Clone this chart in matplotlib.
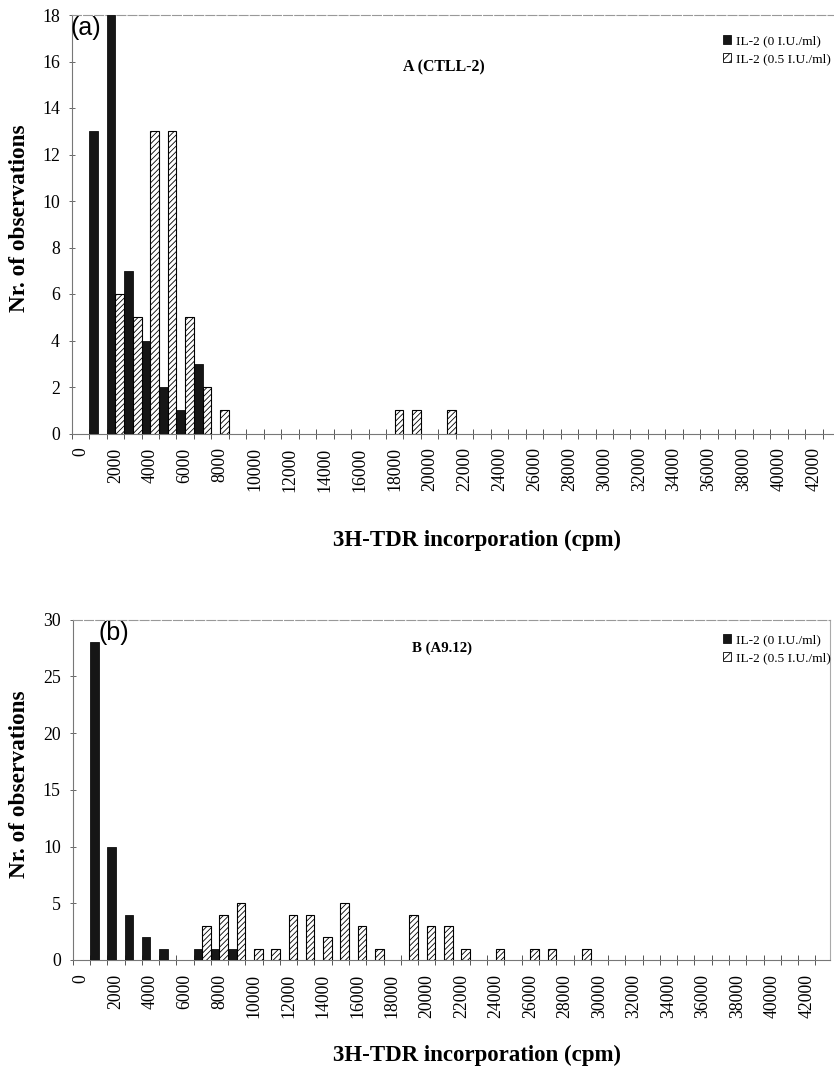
import numpy as np
import matplotlib
matplotlib.use("Agg")
import matplotlib.pyplot as plt
from matplotlib.patches import Patch

# ---------------- data ----------------
categories = list(range(0, 43000, 1000))          # 0 ... 42000 cpm, step 1000
tick_labels = [str(c) if c % 2000 == 0 else "" for c in categories]
series_names = ["IL-2 (0 I.U./ml)", "IL-2 (0.5 I.U./ml)"]

# panel A (CTLL-2)
a_il2_0 = [0, 13, 18, 7, 4, 2, 1, 3, 0, 0,
           0, 0, 0, 0, 0, 0, 0, 0, 0, 0,
           0, 0, 0, 0, 0, 0, 0, 0, 0, 0,
           0, 0, 0, 0, 0, 0, 0, 0, 0, 0,
           0, 0, 0]
a_il2_05 = [0, 0, 6, 5, 13, 13, 5, 2, 1, 0,
            0, 0, 0, 0, 0, 0, 0, 0, 1, 1,
            0, 1, 0, 0, 0, 0, 0, 0, 0, 0,
            0, 0, 0, 0, 0, 0, 0, 0, 0, 0,
            0, 0, 0]

# panel B (A9.12)
b_il2_0 = [0, 28, 10, 4, 2, 1, 0, 1, 1, 1,
           0, 0, 0, 0, 0, 0, 0, 0, 0, 0,
           0, 0, 0, 0, 0, 0, 0, 0, 0, 0,
           0, 0, 0, 0, 0, 0, 0, 0, 0, 0,
           0, 0, 0]
b_il2_05 = [0, 0, 0, 0, 0, 0, 0, 3, 4, 5,
            1, 1, 4, 4, 2, 5, 3, 1, 0, 4,
            3, 3, 1, 0, 1, 0, 1, 1, 0, 1,
            0, 0, 0, 0, 0, 0, 0, 0, 0, 0,
            0, 0, 0]

# ---------------- style ----------------
plt.rcParams['font.family'] = ['Liberation Serif', 'DejaVu Serif']
plt.rcParams['hatch.linewidth'] = 0.6

W, H = 834, 1078
fig = plt.figure(figsize=(W / 100, H / 100), dpi=100)


def fx(px):
    return px / W


def fy(py):
    return 1 - py / H


def panel(rect_px, il0, il05, ymax, ystep, xright, title, title_xy, title_size,
          letter, letter_xy, leg_xy, ylabel_y, xlabel_y, right_spine):
    l, t, r, b = rect_px
    ax = fig.add_axes([fx(l), fy(b), (r - l) / W, (b - t) / H])
    x = np.arange(len(categories))
    v0 = np.array(il0, dtype=float)
    v5 = np.array(il05, dtype=float)
    m0 = v0 > 0
    m5 = v5 > 0
    ax.bar(x[m0] - 0.25, v0[m0], width=0.5, color='#161616',
           edgecolor='#101010', linewidth=0.6, zorder=3)
    ax.bar(x[m5] + 0.25, v5[m5], width=0.5, color='white',
           edgecolor='black', linewidth=0.8, hatch='//////', zorder=3)

    ax.set_xlim(-0.5, xright)
    ax.set_ylim(0, ymax)

    # category boundary ticks (unlabelled) and labelled centres
    ax.set_xticks(np.arange(len(categories) + 1) - 0.5)
    ax.set_xticklabels([])
    ax.set_xticks(x, tick_labels, minor=True)
    ax.tick_params(axis='x', which='major', direction='inout', length=7,
                   width=0.7, color='#555555')
    ax.tick_params(axis='x', which='minor', length=0, pad=10,
                   labelsize=12.8, labelrotation=90)
    ax.set_yticks(np.arange(0, ymax + 0.1, ystep))
    ax.tick_params(axis='y', direction='inout', length=5, width=0.7,
                   color='#666666', labelsize=12.8, pad=6)

    for s in ['left', 'bottom']:
        ax.spines[s].set_color('#777777')
        ax.spines[s].set_linewidth(0.8)
    ax.spines['top'].set_color('#999999')
    ax.spines['top'].set_linewidth(0.8)
    ax.spines['top'].set_linestyle((0, (8, 2)))
    ax.spines['right'].set_color('#aaaaaa')
    ax.spines['right'].set_linewidth(0.8)
    ax.spines['right'].set_visible(right_spine)

    fig.text(fx(title_xy[0]), fy(title_xy[1]), title, ha='center', va='center',
             fontsize=title_size, fontweight='bold')
    fig.text(fx(letter_xy[0]), fy(letter_xy[1]), letter, ha='left', va='top',
             fontsize=18, family=['Liberation Sans', 'DejaVu Sans'])
    handles = [Patch(facecolor='#161616', edgecolor='#101010', linewidth=0.6),
               Patch(facecolor='white', edgecolor='black', linewidth=0.6,
                     hatch='////')]
    ax.legend(handles, series_names, loc='upper left',
              bbox_to_anchor=(fx(leg_xy[0]), fy(leg_xy[1])),
              bbox_transform=fig.transFigure, frameon=False, fontsize=9.6,
              handlelength=0.6, handleheight=0.6, handletextpad=0.35,
              labelspacing=0.45, borderpad=0, borderaxespad=0)
    fig.text(fx(20), fy(ylabel_y), 'Nr. of observations', rotation=90,
             ha='center', va='center', fontsize=16.8, fontweight='bold')
    fig.text(fx(477), fy(xlabel_y), '3H-TDR incorporation (cpm)',
             ha='center', va='center', fontsize=16.5, fontweight='bold')
    return ax


panel((71.7, 15, 833, 433.5), a_il2_0, a_il2_05, 18, 2, 43.1,
      'A (CTLL-2)', (444, 67), 11.4, '(a)', (70.5, 16.5), (723, 35), 218, 540,
      False)
panel((72.7, 619.5, 830, 960), b_il2_0, b_il2_05, 30, 5, 43.35,
      'B (A9.12)', (442, 648), 10.7, '(b)', (99, 621), (723, 634), 784, 1055,
      True)

fig.savefig('out.png', dpi=100)
